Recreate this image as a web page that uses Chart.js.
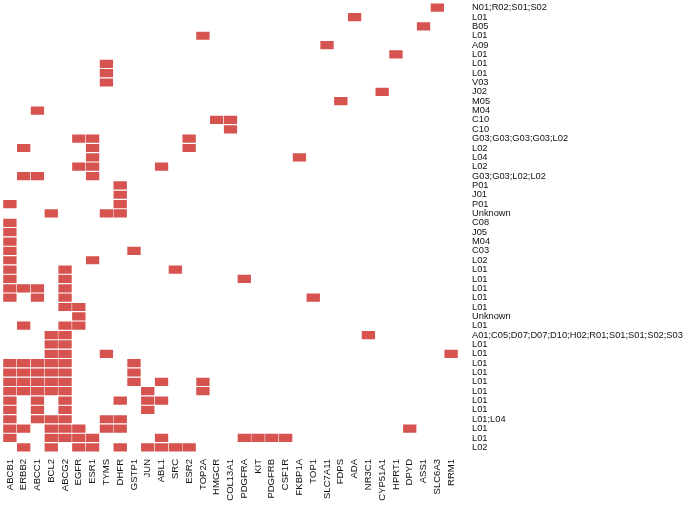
<!DOCTYPE html>
<html>
<head>
<meta charset="utf-8">
<script src="https://cdn.jsdelivr.net/npm/chart.js@4/dist/chart.umd.min.js"></script>
<style>
  body { margin: 0; background: #fff; }
  #wrap { width: 685px; height: 509px; }
</style>
</head>
<body>
<div id="wrap"><canvas id="heat"></canvas></div>
<script>
const genes = ["ABCB1", "ERBB2", "ABCC1", "BCL2", "ABCG2", "EGFR", "ESR1", "TYMS", "DHFR", "GSTP1",
  "JUN", "ABL1", "SRC", "ESR2", "TOP2A", "HMGCR", "COL13A1", "PDGFRA", "KIT", "PDGFRB", "CSF1R",
  "FKBP1A", "TOP1", "SLC7A11", "FDPS", "ADA", "NR3C1", "CYP51A1", "HPRT1", "DPYD", "ASS1", "SLC6A3", "RRM1"];

const rows = ["N01;R02;S01;S02", "L01", "B05", "L01", "A09", "L01", "L01", "L01", "V03", "J02", "M05", "M04",
  "C10", "C10", "G03;G03;G03;G03;L02", "L02", "L04", "L02", "G03;G03;L02;L02", "P01", "J01", "P01", "Unknown",
  "C08", "J05", "M04", "C03", "L02", "L01", "L01", "L01", "L01", "L01", "Unknown", "L01",
  "A01;C05;D07;D07;D10;H02;R01;S01;S01;S02;S03", "L01", "L01", "L01", "L01", "L01", "L01", "L01", "L01",
  "L01;L04", "L01", "L01", "L02"];

// genes hit in each row (same order as rows)
const hits = [
  ["SLC6A3"],
  ["ADA"],
  ["ASS1"],
  ["TOP2A"],
  ["SLC7A11"],
  ["HPRT1"],
  ["TYMS"],
  ["TYMS"],
  ["TYMS"],
  ["CYP51A1"],
  ["FDPS"],
  ["ABCC1"],
  ["HMGCR", "COL13A1"],
  ["COL13A1"],
  ["EGFR", "ESR1", "ESR2"],
  ["ERBB2", "ESR1", "ESR2"],
  ["ESR1", "FKBP1A"],
  ["EGFR", "ESR1", "ABL1"],
  ["ERBB2", "ABCC1", "ESR1"],
  ["DHFR"],
  ["DHFR"],
  ["ABCB1", "DHFR"],
  ["BCL2", "TYMS", "DHFR"],
  ["ABCB1"],
  ["ABCB1"],
  ["ABCB1"],
  ["ABCB1", "GSTP1"],
  ["ABCB1", "ESR1"],
  ["ABCB1", "ABCG2", "SRC"],
  ["ABCB1", "ABCG2", "PDGFRA"],
  ["ABCB1", "ERBB2", "ABCC1", "ABCG2"],
  ["ABCB1", "ABCC1", "ABCG2", "TOP1"],
  ["ABCG2", "EGFR"],
  ["EGFR"],
  ["ERBB2", "ABCG2", "EGFR"],
  ["BCL2", "ABCG2", "NR3C1"],
  ["BCL2", "ABCG2"],
  ["BCL2", "ABCG2", "TYMS", "RRM1"],
  ["ABCB1", "ERBB2", "ABCC1", "BCL2", "ABCG2", "GSTP1"],
  ["ABCB1", "ERBB2", "ABCC1", "BCL2", "ABCG2", "GSTP1"],
  ["ABCB1", "ERBB2", "ABCC1", "BCL2", "ABCG2", "GSTP1", "ABL1", "TOP2A"],
  ["ABCB1", "ERBB2", "ABCC1", "BCL2", "ABCG2", "JUN", "TOP2A"],
  ["ABCB1", "ABCC1", "ABCG2", "DHFR", "JUN", "ABL1"],
  ["ABCB1", "ABCC1", "ABCG2", "JUN"],
  ["ABCB1", "ABCC1", "BCL2", "ABCG2", "TYMS", "DHFR"],
  ["ABCB1", "ERBB2", "BCL2", "ABCG2", "EGFR", "TYMS", "DHFR", "DPYD"],
  ["ABCB1", "BCL2", "ABCG2", "EGFR", "ESR1", "ABL1", "PDGFRA", "KIT", "PDGFRB", "CSF1R"],
  ["ERBB2", "BCL2", "EGFR", "ESR1", "DHFR", "JUN", "ABL1", "SRC", "ESR2"]
];

const cellColor = "#d6534f";
const family = "'Liberation Sans', Arial, sans-serif";

// one floating-bar dataset per row, bars overlap (grouped: false)
const datasets = rows.map((name, r) => ({
  label: name,
  data: genes.map((g) => (hits[r].includes(g) ? [r, r + 1] : null)),
  backgroundColor: cellColor,
  borderColor: "#ffffff",
  borderWidth: { left: 0.55, right: 0.55, top: 0.9, bottom: 0.9 },
  borderSkipped: false,
  grouped: false,
  barPercentage: 1,
  categoryPercentage: 1,
}));

new Chart(document.getElementById("heat"), {
  type: "bar",
  data: { labels: genes, datasets },
  options: {
    responsive: true,
    maintainAspectRatio: false,
    animation: false,
    layout: { padding: { left: 3, top: 3, right: 0, bottom: 0 } },
    plugins: { legend: { display: false }, tooltip: { enabled: false } },
    scales: {
      x: {
        type: "category",
        grid: { display: false, drawTicks: false },
        border: { display: false },
        ticks: { color: "#111", font: { family, size: 9.5 }, minRotation: 90, maxRotation: 90, autoSkip: false, padding: 7 },
        afterFit: (scale) => { scale.height = 57; scale.paddingLeft = 0; scale.paddingRight = 0; },
      },
      y: {
        type: "linear",
        position: "right",
        reverse: true,
        min: 0,
        max: rows.length,
        grid: { display: false, drawTicks: false },
        border: { display: false },
        afterBuildTicks: (scale) => { scale.ticks = rows.map((_, i) => ({ value: i + 0.5 })); },
        ticks: {
          color: "#111",
          font: { family, size: 9.3 },
          autoSkip: false,
          padding: 14,
          callback: (v, i) => rows[i],
        },
        afterFit: (scale) => { scale.width = 227; scale.paddingTop = 0; scale.paddingBottom = 0; },
      },
    },
  },
});
</script>
</body>
</html>
